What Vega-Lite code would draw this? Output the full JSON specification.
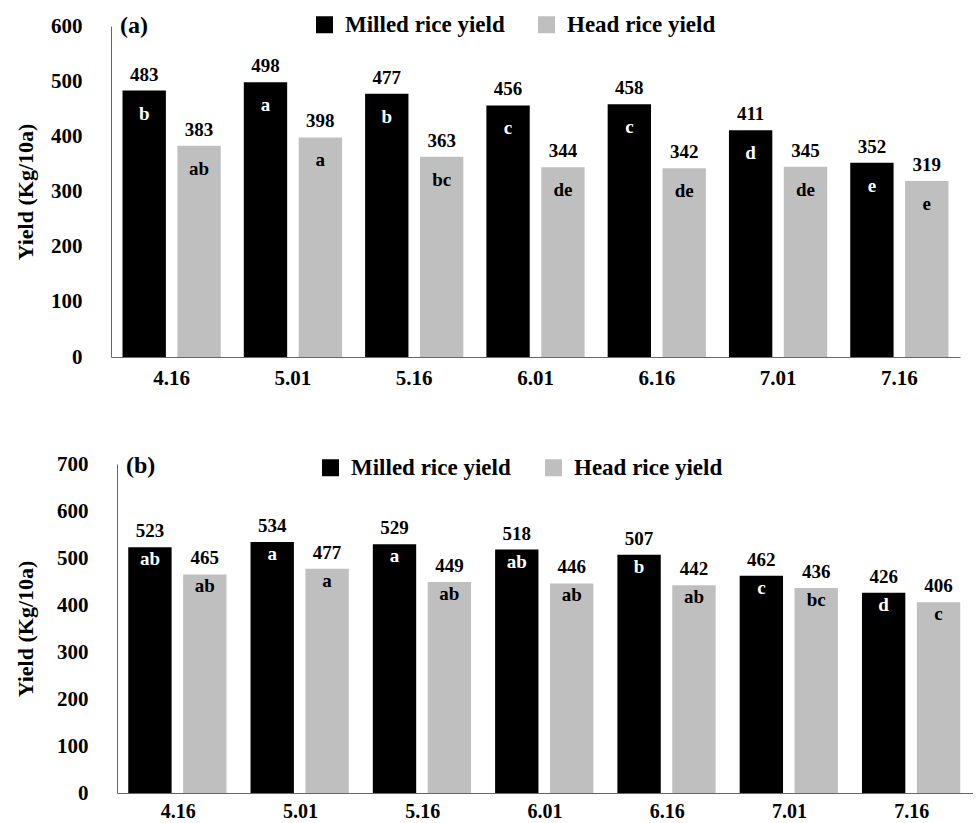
{
  "$schema": "https://vega.github.io/schema/vega-lite/v6.json",
  "background": "white",
  "padding": {"left": 14, "top": 13, "right": 0, "bottom": 0},
  "datasets": {
    "a": [
      {"date": "4.16", "type": "Milled rice yield", "value": 483, "letter": "b"},
      {"date": "4.16", "type": "Head rice yield", "value": 383, "letter": "ab"},
      {"date": "5.01", "type": "Milled rice yield", "value": 498, "letter": "a"},
      {"date": "5.01", "type": "Head rice yield", "value": 398, "letter": "a"},
      {"date": "5.16", "type": "Milled rice yield", "value": 477, "letter": "b"},
      {"date": "5.16", "type": "Head rice yield", "value": 363, "letter": "bc"},
      {"date": "6.01", "type": "Milled rice yield", "value": 456, "letter": "c"},
      {"date": "6.01", "type": "Head rice yield", "value": 344, "letter": "de"},
      {"date": "6.16", "type": "Milled rice yield", "value": 458, "letter": "c"},
      {"date": "6.16", "type": "Head rice yield", "value": 342, "letter": "de"},
      {"date": "7.01", "type": "Milled rice yield", "value": 411, "letter": "d"},
      {"date": "7.01", "type": "Head rice yield", "value": 345, "letter": "de"},
      {"date": "7.16", "type": "Milled rice yield", "value": 352, "letter": "e"},
      {"date": "7.16", "type": "Head rice yield", "value": 319, "letter": "e"}
    ],
    "b": [
      {"date": "4.16", "type": "Milled rice yield", "value": 523, "letter": "ab"},
      {"date": "4.16", "type": "Head rice yield", "value": 465, "letter": "ab"},
      {"date": "5.01", "type": "Milled rice yield", "value": 534, "letter": "a"},
      {"date": "5.01", "type": "Head rice yield", "value": 477, "letter": "a"},
      {"date": "5.16", "type": "Milled rice yield", "value": 529, "letter": "a"},
      {"date": "5.16", "type": "Head rice yield", "value": 449, "letter": "ab"},
      {"date": "6.01", "type": "Milled rice yield", "value": 518, "letter": "ab"},
      {"date": "6.01", "type": "Head rice yield", "value": 446, "letter": "ab"},
      {"date": "6.16", "type": "Milled rice yield", "value": 507, "letter": "b"},
      {"date": "6.16", "type": "Head rice yield", "value": 442, "letter": "ab"},
      {"date": "7.01", "type": "Milled rice yield", "value": 462, "letter": "c"},
      {"date": "7.01", "type": "Head rice yield", "value": 436, "letter": "bc"},
      {"date": "7.16", "type": "Milled rice yield", "value": 426, "letter": "d"},
      {"date": "7.16", "type": "Head rice yield", "value": 406, "letter": "c"}
    ]
  },
  "columns": 1,
  "align": "none",
  "spacing": 65,
  "concat": [
    {
      "data": {"name": "a"},
      "width": 849,
      "height": 331,
      "title": {"text": "(a)", "anchor": "start", "frame": "group", "dx": 9, "offset": -25, "fontSize": 24},
      "encoding": {
        "x": {"field": "date", "type": "nominal", "title": null, "scale": {"paddingInner": 0.19, "paddingOuter": 0.095}},
        "xOffset": {"field": "type", "type": "nominal", "sort": ["Milled rice yield", "Head rice yield"], "scale": {"paddingInner": 0.21, "paddingOuter": 0}},
        "y": {"field": "value", "type": "quantitative", "title": "Yield (Kg/10a)", "scale": {"domain": [0, 600]}, "axis": {"values": [0, 100, 200, 300, 400, 500, 600], "titlePadding": 13}}
      },
      "layer": [
        {
          "mark": {"type": "bar"},
          "encoding": {
            "color": {"field": "type", "type": "nominal", "scale": {"domain": ["Milled rice yield", "Head rice yield"], "range": ["#000000", "#bfbfbf"]},
              "legend": {"orient": "none", "legendX": 202, "legendY": -13, "direction": "horizontal", "title": null, "columnPadding": 30}}
          }
        },
        {
          "mark": {"type": "text", "dy": -10, "baseline": "alphabetic", "fontSize": 19, "color": "black"},
          "encoding": {"text": {"field": "value", "type": "quantitative"}}
        },
        {
          "mark": {"type": "text", "dy": 29, "baseline": "alphabetic", "fontSize": 19},
          "encoding": {
            "text": {"field": "letter", "type": "nominal"},
            "color": {"condition": {"test": "datum.type === 'Milled rice yield'", "value": "white"}, "value": "black"}
          }
        }
      ]
    },
    {
      "data": {"name": "b"},
      "width": 862,
      "height": 329,
      "title": {"text": "(b)", "anchor": "start", "frame": "group", "dx": 15, "offset": -25, "fontSize": 24},
      "encoding": {
        "x": {"field": "date", "type": "nominal", "title": null, "scale": {"range": [6, 862], "paddingInner": 0.184, "paddingOuter": 0.092}, "axis": {"labelBaseline": "alphabetic", "labelPadding": 24, "labelFontSize": 20}},
        "xOffset": {"field": "type", "type": "nominal", "sort": ["Milled rice yield", "Head rice yield"], "scale": {"paddingInner": 0.21, "paddingOuter": 0}},
        "y": {"field": "value", "type": "quantitative", "title": "Yield (Kg/10a)", "scale": {"domain": [0, 700]}, "axis": {"values": [0, 100, 200, 300, 400, 500, 600, 700], "titlePadding": 19, "offset": -6}}
      },
      "layer": [
        {
          "mark": {"type": "bar"},
          "encoding": {
            "color": {"field": "type", "type": "nominal", "scale": {"domain": ["Milled rice yield", "Head rice yield"], "range": ["#000000", "#bfbfbf"]},
              "legend": {"orient": "none", "legendX": 208, "legendY": -8, "direction": "horizontal", "title": null, "columnPadding": 31}}
          }
        },
        {
          "mark": {"type": "text", "dy": -10, "baseline": "alphabetic", "fontSize": 19, "color": "black"},
          "encoding": {"text": {"field": "value", "type": "quantitative"}}
        },
        {
          "mark": {"type": "text", "dy": 18, "baseline": "alphabetic", "fontSize": 19},
          "encoding": {
            "text": {"field": "letter", "type": "nominal"},
            "color": {"condition": {"test": "datum.type === 'Milled rice yield'", "value": "white"}, "value": "black"}
          }
        }
      ]
    }
  ],
  "resolve": {"scale": {"color": "independent"}, "legend": {"color": "independent"}},
  "config": {
    "font": "Liberation Serif",
    "view": {"stroke": null},
    "axis": {"labelFont": "Liberation Serif", "labelFontWeight": "bold", "labelColor": "black", "titleFont": "Liberation Serif", "titleFontWeight": "bold", "titleColor": "black", "ticks": false, "grid": false, "domainColor": "#666666", "domainWidth": 1},
    "axisX": {"labelFontSize": 21, "labelPadding": 10, "labelAngle": 0},
    "axisY": {"labelFontSize": 21, "labelPadding": 29, "titleFontSize": 22},
    "title": {"font": "Liberation Serif", "fontSize": 22, "fontWeight": "bold", "color": "black"},
    "text": {"font": "Liberation Serif", "fontWeight": "bold"},
    "legend": {"symbolType": "square", "symbolSize": 289, "symbolStrokeWidth": 0, "labelFont": "Liberation Serif", "labelFontSize": 23, "labelFontWeight": "bold", "labelColor": "black", "labelOffset": 9, "padding": 0, "symbolOpacity": 1}
  }
}
